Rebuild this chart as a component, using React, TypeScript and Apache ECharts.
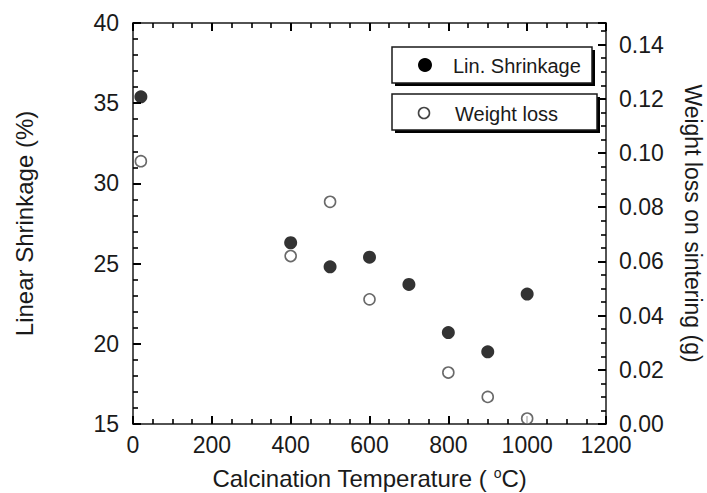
import React, { useEffect, useRef } from "react";
import * as echarts from "echarts";

const shrinkTemps = [20, 400, 500, 600, 700, 800, 900, 1000];
const shrinkValues = [35.4, 26.3, 24.8, 25.4, 23.7, 20.7, 19.5, 23.1];
const weightTemps = [20, 400, 500, 600, 800, 900, 1000];
const weightValues = [0.097, 0.062, 0.082, 0.046, 0.019, 0.01, 0.002];
const seriesNames = ["Lin. Shrinkage", "Weight loss"];

const FONT = "Liberation Sans, Arial, sans-serif";
const INK = "#1a1a1a";

export default function App() {
  const ref = useRef<HTMLDivElement>(null);
  useEffect(() => {
    if (!ref.current) return;
    const chart = echarts.init(ref.current, null, { renderer: "svg" });
    const axisLine = { show: true, onZero: false, lineStyle: { color: INK, width: 1.5 } };
    const tick = { show: true, inside: true, length: 8, lineStyle: { color: "#000", width: 2 } };
    const minor = (n: number) => ({ show: true, splitNumber: n, length: 5, lineStyle: { color: "#000", width: 1.6 } });
    const label = { color: INK, fontSize: 23, fontFamily: FONT };
    const nameStyle = { color: INK, fontSize: 24, fontFamily: FONT };
    chart.setOption({
      animation: false,
      backgroundColor: "#fff",
      grid: { left: 133, right: 101, top: 23, bottom: 69, containLabel: false, outerBoundsMode: "none" },
      xAxis: [
        {
          type: "value", min: 0, max: 1200, interval: 200, position: "bottom",
          axisLine, axisTick: tick, minorTick: minor(4), splitLine: { show: false },
          axisLabel: { ...label, margin: 9, formatter: (v: number) => String(v) },
          name: "Calcination Temperature ( {sup|o}C)",
          nameLocation: "middle", nameGap: 42,
          nameTextStyle: { ...nameStyle, rich: { sup: { fontSize: 14, fontFamily: FONT, color: INK, verticalAlign: "top", padding: [0, 0, 10, 0] } } },
        },
        {
          type: "value", min: 0, max: 1200, interval: 200, position: "top",
          axisLine, axisTick: tick, minorTick: minor(4), splitLine: { show: false },
          axisLabel: { show: false },
        },
      ],
      yAxis: [
        {
          type: "value", min: 15, max: 40, interval: 5, position: "left",
          axisLine, axisTick: tick, minorTick: minor(5), splitLine: { show: false },
          axisLabel: { ...label, margin: 14 },
          name: "Linear Shrinkage (%)", nameLocation: "middle", nameGap: 97,
          nameTextStyle: nameStyle,
        },
        {
          type: "value", min: 0, max: 0.148, interval: 0.02, position: "right",
          axisLine, axisTick: tick, minorTick: minor(4), splitLine: { show: false },
          axisLabel: { ...label, margin: 13, showMaxLabel: false, formatter: (v: number) => v.toFixed(2) },
          name: "Weight loss on sintering (g)", nameLocation: "middle", nameGap: 75, nameRotate: -90,
          nameTextStyle: { ...nameStyle, fontSize: 23 },
        },
      ],
      series: [
        {
          name: seriesNames[0], type: "scatter", xAxisIndex: 0, yAxisIndex: 0,
          symbol: "circle", symbolSize: 13,
          itemStyle: { color: "#000" },
          data: shrinkTemps.map((t, i) => [t, shrinkValues[i]]),
          z: 3,
        },
        {
          name: seriesNames[1], type: "scatter", xAxisIndex: 0, yAxisIndex: 1,
          symbol: "circle", symbolSize: 11,
          itemStyle: { color: "#fff", borderColor: "#444", borderWidth: 1.6 },
          data: weightTemps.map((t, i) => [t, weightValues[i]]),
          z: 4,
        },
      ],
      graphic: [
        { type: "rect", shape: { x: 395, y: 50, width: 200, height: 36 }, style: { fill: "#000" }, z: 10 },
        { type: "rect", shape: { x: 392, y: 47, width: 200, height: 36 }, style: { fill: "#fff", stroke: INK, lineWidth: 1.5 }, z: 11 },
        { type: "circle", shape: { cx: 425, cy: 65, r: 7 }, style: { fill: "#000" }, z: 12 },
        { type: "text", x: 453, y: 66, style: { text: seriesNames[0], fontSize: 20, fontFamily: FONT, fill: INK, verticalAlign: "middle" }, z: 12 },
        { type: "rect", shape: { x: 395, y: 97, width: 205, height: 36 }, style: { fill: "#000" }, z: 10 },
        { type: "rect", shape: { x: 392, y: 94, width: 205, height: 36 }, style: { fill: "#fff", stroke: INK, lineWidth: 1.5 }, z: 11 },
        { type: "circle", shape: { cx: 424, cy: 113, r: 5.5 }, style: { fill: "#fff", stroke: "#444", lineWidth: 1.6 }, z: 12 },
        { type: "text", x: 455, y: 114, style: { text: seriesNames[1], fontSize: 20, fontFamily: FONT, fill: INK, verticalAlign: "middle" }, z: 12 },
      ],
    });
    return () => chart.dispose();
  }, []);
  return <div ref={ref} style={{ position: "fixed", left: 0, top: 0, width: 707, height: 493 }} />;
}
